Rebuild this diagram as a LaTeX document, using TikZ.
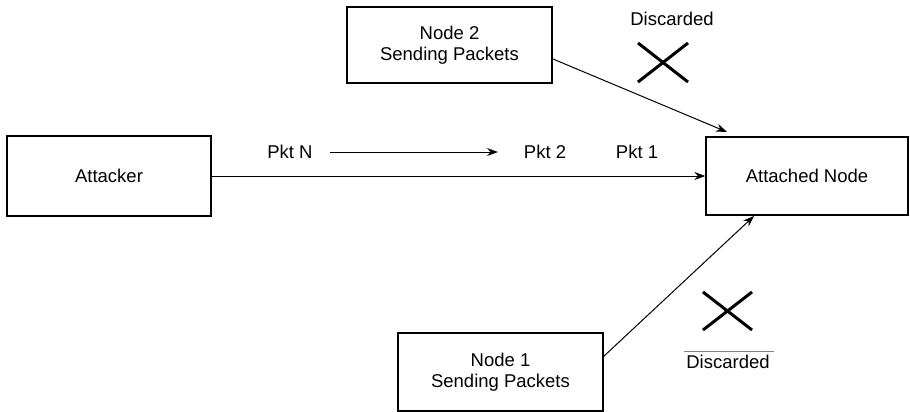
\documentclass[tikz,border=0pt]{standalone}
\usepackage{fontspec}
\setmainfont{Liberation Sans}
\usetikzlibrary{arrows.meta}
\begin{document}
\begin{tikzpicture}[x=1pt,y=-1pt,
  box/.style={draw, line width=1.3pt, inner sep=0pt, font=\fontsize{18.5}{21}\selectfont, align=center},
  lbl/.style={font=\fontsize{18.5}{21}\selectfont, inner sep=0pt},
  conn/.style={line width=1pt, -{Stealth[length=11pt,width=8pt]}},
  cross/.style={line width=3pt}]
\useasboundingbox (0,0) rectangle (910,412);
\node[box, minimum width=204pt, minimum height=80pt] (att) at (109,176) {Attacker};
\node[box, minimum width=202pt, minimum height=78pt] (tgt) at (807,176) {Attached Node};
\node[box, minimum width=205pt, minimum height=76pt] (n2) at (449.5,45) {Node 2\\Sending Packets};
\node[box, minimum width=205pt, minimum height=78pt] (n1) at (500.5,372) {Node 1\\Sending Packets};
\draw[conn] (att.east) -- (tgt.west);
\node[lbl] (pn) at (290,152) {Pkt N};
\node[lbl] (p2) at (545,152) {Pkt 2};
\node[lbl] (p1) at (637,152) {Pkt 1};
\coordinate (pa) at (330,152);
\coordinate (pb) at (498,152);
\draw[conn] (pa) -- (pb);
\coordinate (t2) at (727,132);
\coordinate (t1) at (754,216);
\coordinate (s2) at (553,59);
\coordinate (s1) at (603,357);
\draw[conn] (s2) -- (t2);
\draw[conn] (s1) -- (t1);
\node[lbl] (d2) at (672,19) {Discarded};
\coordinate (xa) at (638,43); \coordinate (xb) at (688,82);
\coordinate (xc) at (638,82); \coordinate (xd) at (688,43);
\draw[cross] (xa) -- (xb); \draw[cross] (xc) -- (xd);
\coordinate (ya) at (703,292); \coordinate (yb) at (752,330);
\coordinate (yc) at (703,330); \coordinate (yd) at (752,292);
\draw[cross] (ya) -- (yb); \draw[cross] (yc) -- (yd);
\node[lbl] (d1) at (728,362) {Discarded};
\coordinate (oa) at (684,351); \coordinate (ob) at (774,351);
\draw[line width=0.8pt, gray] (oa) -- (ob);
\end{tikzpicture}
\end{document}
